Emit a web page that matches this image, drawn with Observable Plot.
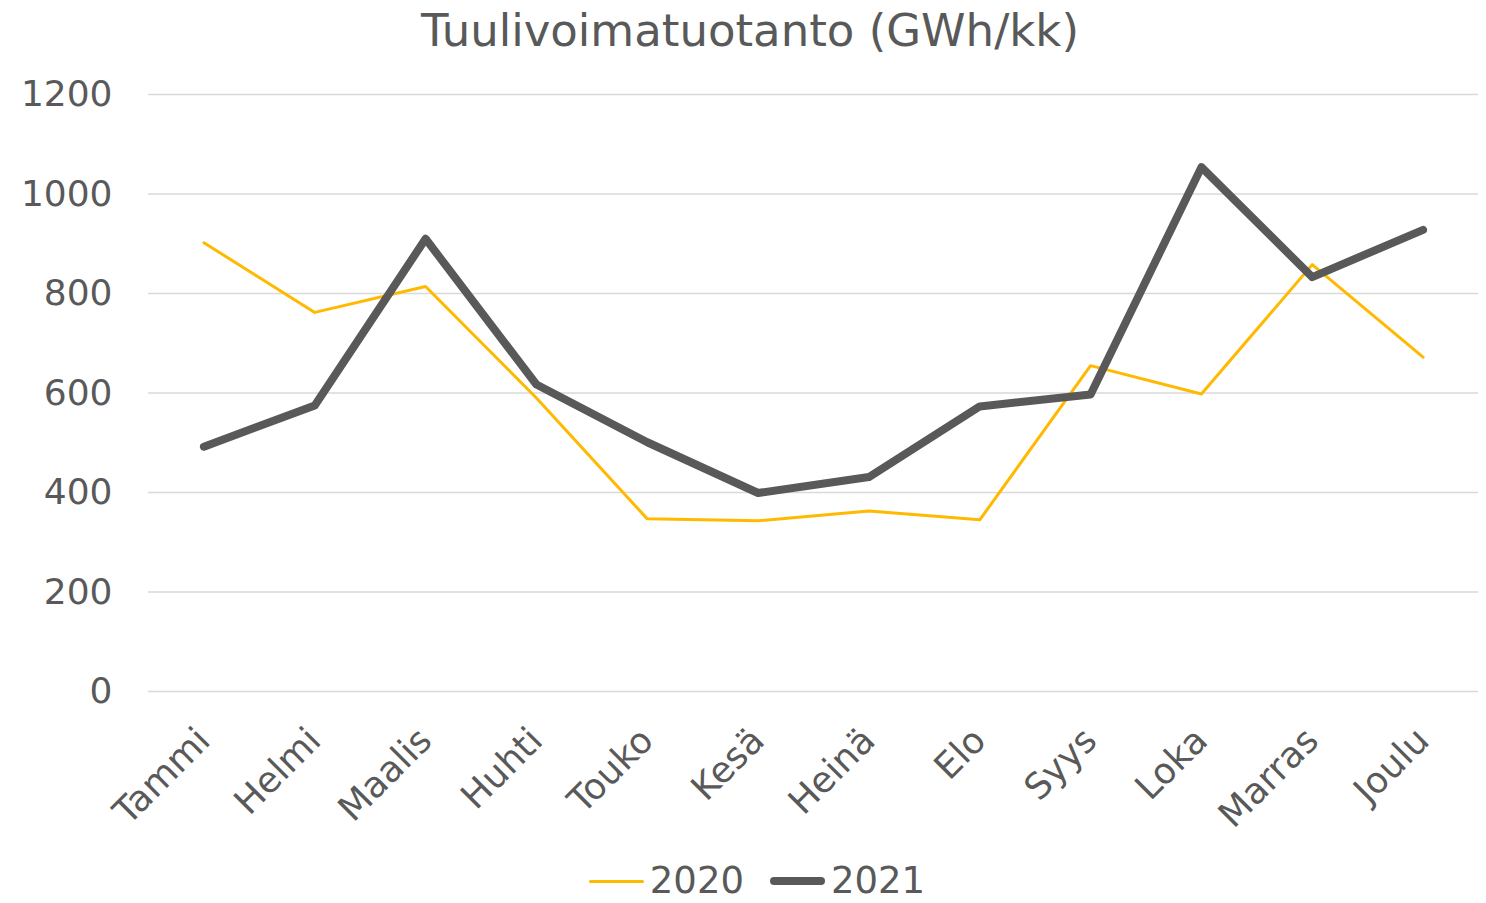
<!DOCTYPE html>
<html>
<head>
<meta charset="utf-8">
<script src="https://cdn.jsdelivr.net/npm/d3@7"></script>
<script src="https://cdn.jsdelivr.net/npm/@observablehq/plot@0.6"></script>
<style>
  html, body { margin: 0; padding: 0; background: #fff; }
  body { width: 1486px; height: 903px; overflow: hidden; font-family: "DejaVu Sans", Verdana, sans-serif; color: #595959; }
  #title { height: 60px; line-height: 62px; text-align: center; font-size: 45px; color: #595959; padding-left: 14px; }
  #chart svg { display: block; }
  #legend { display: flex; justify-content: center; align-items: center; gap: 26px; font-size: 37px; line-height: 34px; color: #595959; height: 34px; margin-top: 11px; padding-left: 28px; }
  .item { display: flex; align-items: center; }
  .sw { display: inline-block; width: 55px; margin-right: 6px; border-radius: 5px; }
</style>
</head>
<body>
<div id="title">Tuulivoimatuotanto (GWh/kk)</div>
<div id="chart"></div>
<div id="legend"></div>
<script>
const months = ["Tammi","Helmi","Maalis","Huhti","Touko","Kesä","Heinä","Elo","Syys","Loka","Marras","Joulu"];
const v2020 = [902, 762, 814, 590, 347, 343, 363, 345, 655, 598, 858, 672];
const v2021 = [492, 575, 910, 617, 501, 399, 431, 573, 597, 1054, 833, 928];
const yTicks = [0, 200, 400, 600, 800, 1000, 1200];
const seriesNames = ["2020", "2021"];
const seriesColors = ["#FFB900", "#595959"];
const seriesWidths = [3, 8];

const data = [];
months.forEach((m, i) => {
  data.push({month: m, value: v2020[i], year: "2020"});
  data.push({month: m, value: v2021[i], year: "2021"});
});

const chart = Plot.plot({
  width: 1486,
  height: 793,
  marginTop: 34,
  marginBottom: 162,
  marginLeft: 148,
  marginRight: 8,
  style: {fontFamily: "DejaVu Sans, Verdana, sans-serif", fontSize: "36px", color: "#595959", background: "#fff"},
  x: {type: "point", domain: months, padding: 0.5, round: false, label: null},
  y: {domain: [0, 1200], ticks: yTicks, label: null},
  marks: [
    Plot.ruleY(yTicks, {stroke: "#d9d9d9", strokeWidth: 1.5}),
    Plot.axisY({ticks: yTicks, tickSize: 0, tickPadding: 36, tickFormat: d3.format("d"), label: null, fontSize: 36}),
    Plot.axisX({tickSize: 0, tickPadding: 43, tickRotate: -45, label: null, fontSize: 36}),
    Plot.line(data.filter(d => d.year === "2020"), {x: "month", y: "value", stroke: seriesColors[0], strokeWidth: seriesWidths[0], strokeLinejoin: "round", strokeLinecap: "round"}),
    Plot.line(data.filter(d => d.year === "2021"), {x: "month", y: "value", stroke: seriesColors[1], strokeWidth: seriesWidths[1], strokeLinejoin: "round", strokeLinecap: "round"})
  ]
});
document.getElementById("chart").appendChild(chart);

const legend = document.getElementById("legend");
seriesNames.forEach((n, i) => {
  const item = document.createElement("div");
  item.className = "item";
  const sw = document.createElement("span");
  sw.className = "sw";
  sw.style.height = seriesWidths[i] + "px";
  sw.style.background = seriesColors[i];
  item.appendChild(sw);
  const t = document.createElement("span");
  t.textContent = n;
  item.appendChild(t);
  legend.appendChild(item);
});
</script>
</body>
</html>
